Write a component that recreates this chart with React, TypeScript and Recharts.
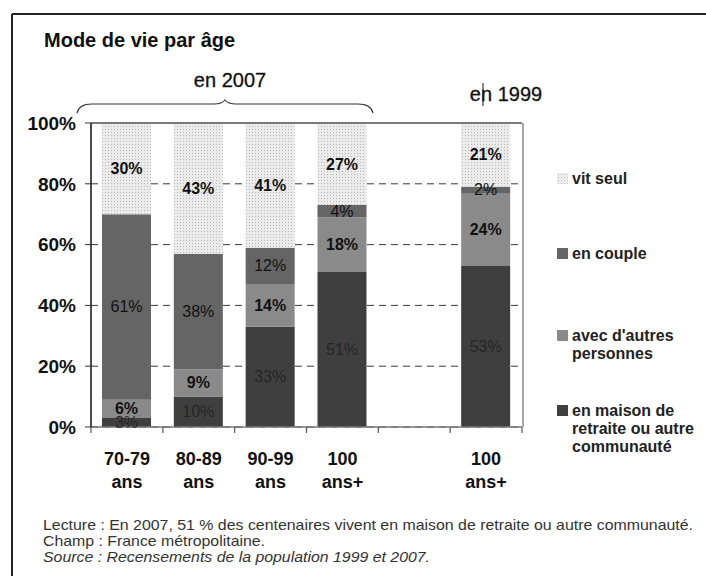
import React from 'react'
import {
  BarChart,
  Bar,
  XAxis,
  YAxis,
  CartesianGrid,
  ReferenceLine,
  LabelList,
} from 'recharts'

// values (percent of each age group)
const CATEGORIES = ['70-79 ans', '80-89 ans', '90-99 ans', '100 ans+', '', '100 ans+']
const MAISON = [3, 10, 33, 51, null, 53]
const AUTRES = [6, 9, 14, 18, null, 24]
const COUPLE = [61, 38, 12, 4, null, 2]
const SEUL = [30, 43, 41, 27, null, 21]
const Y_TICKS = [0, 20, 40, 60, 80, 100]

const FONT = '"Liberation Sans", Arial, Helvetica, sans-serif'

const W = 706
const H = 576
// plot area in page pixels
const PLOT = { left: 91, top: 123, right: 522, bottom: 427 }
const Y_AXIS_W = 60
const X_AXIS_H = 70

const series = [
  { key: 'maison', fill: '#3f3f3f', text: '#262626', weight: 400, legend: ['en maison de', 'retraite ou autre', 'communauté'] },
  { key: 'autres', fill: '#8a8a8a', text: '#111', weight: 700, legend: ["avec d'autres", 'personnes'] },
  { key: 'couple', fill: '#656565', text: '#111', weight: 400, legend: ['en couple'] },
  { key: 'seul', fill: 'url(#dots)', text: '#111', weight: 700, legend: ['vit seul'] },
]

const chartData = CATEGORIES.map((cat, i) => ({
  id: 'c' + i,
  cat,
  maison: MAISON[i],
  autres: AUTRES[i],
  couple: COUPLE[i],
  seul: SEUL[i],
}))

const XTick = (props: any) => {
  const { x, y, payload } = props
  const row = chartData.find(d => d.id === payload.value)
  if (!row || !row.cat) return null
  const parts = row.cat.split(' ')
  return (
    <text x={x} y={y} textAnchor="middle" fontFamily={FONT} fontSize={18} fontWeight={700} fill="#111">
      <tspan x={x} dy={38}>{parts[0]}</tspan>
      <tspan x={x} dy={23}>{parts[1]}</tspan>
    </text>
  )
}

const makeLabel = (color: string, weight: number) => (props: any) => {
  const { x, y, width, height, value } = props
  if (value === null || value === undefined) return null
  return (
    <text
      x={Number(x) + Number(width) / 2}
      y={Number(y) + Number(height) / 2 + 5.5}
      textAnchor="middle"
      fontFamily={FONT}
      fontSize={16}
      fontWeight={weight}
      fill={color}
    >
      {value}%
    </text>
  )
}

const legendTop: Record<string, number> = { seul: 173, couple: 248, autres: 330, maison: 405 }

export default function App() {
  const bandW = (PLOT.right - PLOT.left) / CATEGORIES.length
  const edges = CATEGORIES.map((_, i) => PLOT.left + i * bandW).concat([PLOT.right])

  return (
    <div style={{ position: 'absolute', left: 0, top: 0, width: W, height: H, background: '#fff', fontFamily: FONT }}>
      <BarChart
        width={W}
        height={H}
        data={chartData}
        margin={{
          top: PLOT.top,
          right: W - PLOT.right,
          left: PLOT.left - Y_AXIS_W,
          bottom: H - PLOT.bottom - X_AXIS_H,
        }}
      >
        <defs>
          <pattern id="dots" width="3" height="3" patternUnits="userSpaceOnUse">
            <rect width="3" height="3" fill="#ebebeb" />
            <rect width="1" height="1" fill="#b8b8b8" />
          </pattern>
        </defs>
        <CartesianGrid horizontal vertical={false} stroke="#3a3a3a" strokeDasharray="7 5" />
        <ReferenceLine y={100} stroke="#7a7a7a" strokeWidth={2} />
        <XAxis
          dataKey="id"
          height={X_AXIS_H}
          tick={<XTick />}
          tickLine={false}
          tickSize={0}
          tickMargin={0}
          axisLine={{ stroke: '#777', strokeWidth: 1.5 }}
          interval={0}
        />
        <YAxis
          width={Y_AXIS_W}
          domain={[0, 100]}
          ticks={Y_TICKS}
          allowDataOverflow
          tickFormatter={(v: number) => `${v}%`}
          tick={{ fontFamily: FONT, fontSize: 19, fontWeight: 700, fill: '#111' }}
          tickSize={6}
          tickMargin={9}
          tickLine={{ stroke: '#333' }}
          axisLine={{ stroke: '#111', strokeWidth: 1.5 }}
        />
        {series.map(s => (
          <Bar key={s.key} dataKey={s.key} stackId="a" fill={s.fill} barSize={49} isAnimationActive={false}>
            <LabelList dataKey={s.key} content={makeLabel(s.text, s.weight)} />
          </Bar>
        ))}
      </BarChart>

      <svg
        width={W}
        height={H}
        style={{ position: 'absolute', left: 0, top: 0, pointerEvents: 'none' }}
        fontFamily={FONT}
      >
        <defs>
          <pattern id="dots2" width="3" height="3" patternUnits="userSpaceOnUse">
            <rect width="3" height="3" fill="#ececec" />
            <rect width="1" height="1" fill="#c4c4c4" />
          </pattern>
        </defs>
        {/* frame */}
        <line x1={12} y1={14} x2={W} y2={14} stroke="#222" strokeWidth={2} />
        <line x1={12} y1={14} x2={12} y2={H} stroke="#222" strokeWidth={2} />

        <text x={44} y={47} fontSize={20} fontWeight={700} fill="#111">Mode de vie par âge</text>

        {/* brace over the 2007 bars */}
        <path
          d="M77,113 Q79,104 92,104 L214,104 Q222,104 225,100 Q228,104 236,104 L358,104 Q371,104 373,113"
          fill="none"
          stroke="#333"
          strokeWidth={1.2}
        />
        <text x={230} y={87} textAnchor="middle" fontSize={20} fill="#111" stroke="#111" strokeWidth={0.3}>en 2007</text>
        <text x={506} y={101} textAnchor="middle" fontSize={20} fill="#111" stroke="#111" strokeWidth={0.3}>en 1999</text>
        <line x1={483} y1={83} x2={483} y2={106} stroke="#111" strokeWidth={1} />

        {/* plot border right side */}
        <line x1={PLOT.right + 1} y1={PLOT.top} x2={PLOT.right + 1} y2={PLOT.bottom} stroke="#888" strokeWidth={1.5} />

        {/* category boundary ticks */}
        {edges.map((x, i) => (
          <line key={i} x1={x} y1={PLOT.bottom} x2={x} y2={PLOT.bottom + 6} stroke="#555" strokeWidth={1.2} />
        ))}

        {/* legend */}
        {series.map(s => (
          <g key={s.key}>
            <rect
              x={557}
              y={legendTop[s.key]}
              width={11}
              height={11}
              fill={s.key === 'seul' ? 'url(#dots2)' : s.fill}
            />
            <text x={572} y={legendTop[s.key] + 11} fontSize={16} fontWeight={700} fill="#222">
              {s.legend.map((l, j) => (
                <tspan key={j} x={572} dy={j === 0 ? 0 : 18}>{l}</tspan>
              ))}
            </text>
          </g>
        ))}

        {/* notes */}
        <text x={43} y={530} fontSize={14.5} fill="#333" textLength={650} lengthAdjust="spacingAndGlyphs">
          Lecture : En 2007, 51 % des centenaires vivent en maison de retraite ou autre communauté.
        </text>
        <text x={43} y={546} fontSize={14.5} fill="#333" textLength={222} lengthAdjust="spacingAndGlyphs">
          Champ : France métropolitaine.
        </text>
        <text x={43} y={562} fontSize={14.5} fontStyle="italic" fill="#333" textLength={387} lengthAdjust="spacingAndGlyphs">
          Source : Recensements de la population 1999 et 2007.
        </text>
      </svg>
    </div>
  )
}
